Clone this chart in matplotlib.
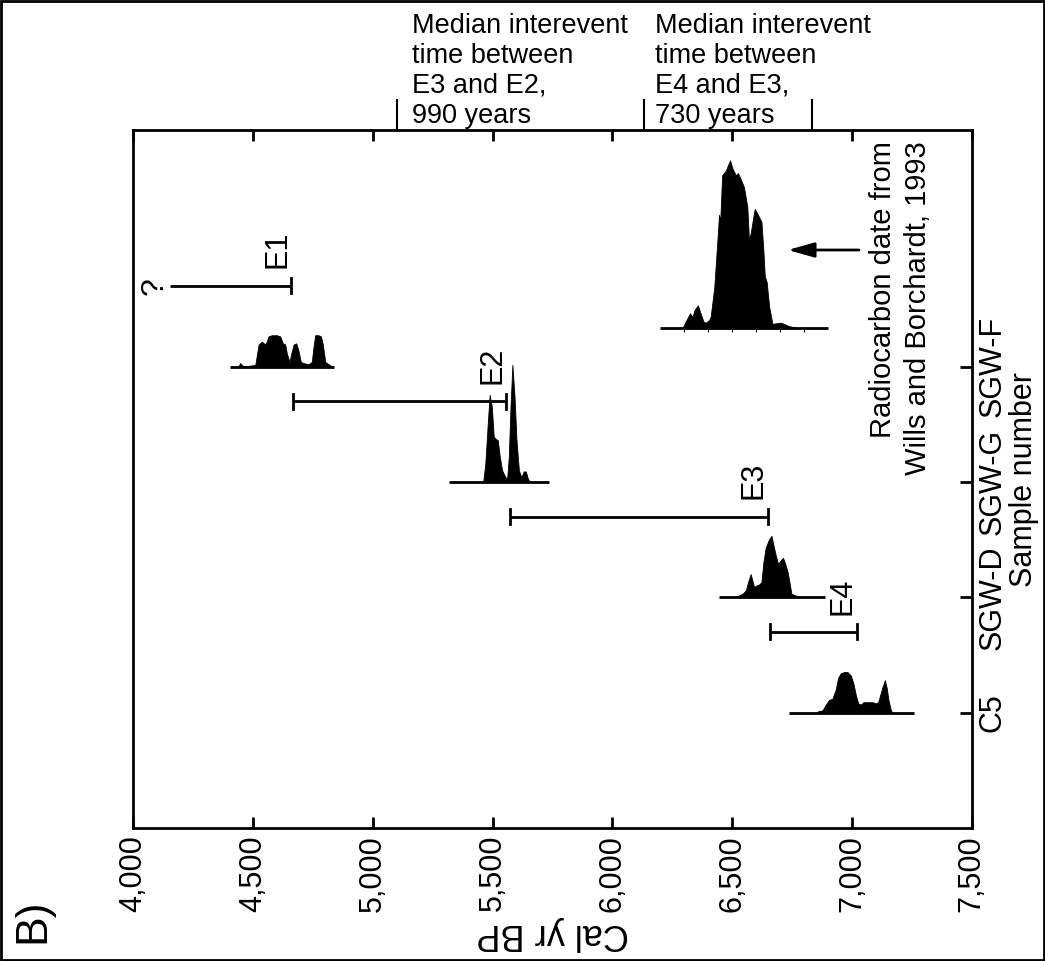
import numpy as np
import matplotlib.pyplot as plt
import matplotlib.transforms as mtransforms
from matplotlib.patches import Rectangle

plt.rcParams['font.family'] = ['Liberation Sans', 'DejaVu Sans']

# axis
year_ticks = [4000, 4500, 5000, 5500, 6000, 6500, 7000, 7500]
year_labels = ['4,000', '4,500', '5,000', '5,500', '6,000', '6,500', '7,000', '7,500']
sample_names = ['C5', 'SGW-D', 'SGW-G', 'SGW-F']
sample_rows = [1, 2, 3, 4]

# calibrated age distributions (year, relative probability)
c5_yr = [6856, 6877, 6891, 6904, 6918, 6932, 6942, 6953, 6967, 6981, 6995, 7006, 7016, 7026,
         7037, 7048, 7058, 7071, 7086, 7099, 7109, 7120, 7127, 7137, 7145, 7152, 7162, 7169]
c5_p = [0.01, 0.02, 0.07, 0.11, 0.12, 0.20, 0.30, 0.34, 0.35, 0.35, 0.32, 0.25, 0.15, 0.08,
        0.07, 0.09, 0.09, 0.09, 0.09, 0.08, 0.09, 0.17, 0.22, 0.28, 0.21, 0.11, 0.02, 0.0]

sgwd_yr = [6522, 6543, 6557, 6566, 6577, 6586, 6591, 6600, 6612, 6622, 6630, 6640, 6654, 6664,
           6672, 6682, 6691, 6703, 6712, 6721, 6731, 6739, 6747, 6758, 6772, 6783]
sgwd_p = [0.01, 0.03, 0.06, 0.13, 0.20, 0.13, 0.09, 0.10, 0.11, 0.13, 0.30, 0.43, 0.50, 0.53,
          0.45, 0.36, 0.29, 0.32, 0.34, 0.29, 0.22, 0.13, 0.03, 0.02, 0.01, 0.0]

sgwg_yr = [5461, 5470, 5480, 5488, 5497, 5505, 5513, 5522, 5530, 5540, 5554, 5561, 5568, 5575,
           5583, 5592, 5600, 5610, 5620, 5630, 5639, 5647, 5655]
sgwg_p = [0.0, 0.16, 0.50, 0.75, 0.65, 0.39, 0.37, 0.36, 0.22, 0.10, 0.04, 0.03, 0.22, 0.65,
          1.01, 0.73, 0.36, 0.10, 0.04, 0.09, 0.09, 0.03, 0.0]

sgwf_yr = [4440, 4447, 4461, 4510, 4524, 4538, 4551, 4558, 4565, 4579, 4600, 4614, 4625, 4635,
           4642, 4653, 4660, 4670, 4681, 4690, 4700, 4711, 4732, 4746, 4753, 4760, 4774, 4784,
           4792, 4802, 4823, 4830]
sgwf_p = [0.0, 0.03, 0.0, 0.014, 0.19, 0.215, 0.19, 0.215, 0.26, 0.27, 0.27, 0.26, 0.20, 0.19,
          0.11, 0.04, 0.11, 0.19, 0.20, 0.14, 0.04, 0.03, 0.02, 0.04, 0.17, 0.27, 0.27, 0.26,
          0.19, 0.04, 0.01, 0.0]

wills_yr = [6292, 6306, 6324, 6334, 6343, 6357, 6368, 6380, 6389, 6403, 6410, 6425, 6438, 6445,
            6450, 6458, 6473, 6491, 6501, 6515, 6524, 6535, 6549, 6563, 6570, 6577, 6588, 6594,
            6605, 6622, 6630, 6636, 6644, 6654, 6668, 6703, 6737, 6786]
wills_p = [0.0, 0.06, 0.13, 0.10, 0.16, 0.20, 0.13, 0.06, 0.05, 0.07, 0.10, 0.35, 0.75, 0.98,
           0.92, 1.32, 1.36, 1.45, 1.38, 1.32, 1.34, 1.29, 1.22, 1.05, 0.76, 0.82, 0.96, 1.03,
           0.99, 0.92, 0.68, 0.45, 0.40, 0.19, 0.04, 0.05, 0.02, 0.0]
wills_row = 4.33
wills_minor = [6300, 6400, 6500, 6600, 6700, 6800]

dists = [
    (c5_yr, c5_p, 1, 6737, 7259),
    (sgwd_yr, sgwd_p, 2, 6445, 6887),
    (sgwg_yr, sgwg_p, 3, 5317, 5735),
    (sgwf_yr, sgwf_p, 4, 4405, 4840),
    (wills_yr, wills_p, wills_row, 6197, 6899),
]

# event age ranges
events = ['E1', 'E2', 'E3', 'E4']
event_start = [4155, 4668, 5571, 6657]
event_end = [4660, 5558, 6648, 7020]
event_row = [4.7, 3.7, 2.7, 1.7]

# interevent time brackets above the plot
bracket_years = [5100, 6133, 6833]
interevent_text = ['Median interevent\ntime between\nE3 and E2,\n990 years',
                   'Median interevent\ntime between\nE4 and E3,\n730 years']
interevent_x = [5165, 6180]

fig = plt.figure(figsize=(10.45, 9.61), dpi=100)
ax = fig.add_axes([0.1273, 0.1384, 0.8027, 0.7263])
lw = 2.0

for yr, p, row, b0, b1 in dists:
    yr = np.array(yr)
    p = np.array(p)
    ax.fill_between(yr, row, row + p * 116 / 115.4, color='black', lw=0.6)
    ax.plot([b0, b1], [row, row], color='black', lw=lw, solid_capstyle='butt')
ax.vlines(wills_minor, wills_row - 0.03, wills_row, color='black', lw=0.8)

cap = 0.065
for name, x0, x1, row in zip(events, event_start, event_end, event_row):
    ax.plot([x0, x1], [row, row], color='black', lw=lw, solid_capstyle='butt')
    ax.plot([x1, x1], [row - cap, row + cap], color='black', lw=lw)
    if name != 'E1':
        ax.plot([x0, x0], [row - cap, row + cap], color='black', lw=lw)
    ax.text(x1 + 4, row + 0.15, name, rotation=90, ha='right', va='bottom', fontsize=22)
ax.text(event_start[0] - 63, event_row[0], '?', rotation=90, ha='center', va='center', fontsize=23)

ax.annotate('', xy=(6732, 5.01), xytext=(7029, 5.01),
            arrowprops=dict(arrowstyle='-|>,head_length=1.6,head_width=0.45',
                            color='black', lw=2, shrinkA=0, shrinkB=0))
ax.text(7129, 5.95, 'Radiocarbon date from', rotation=90, ha='center', va='top', fontsize=21)
ax.text(7275, 5.95, 'Wills and Borchardt, 1993', rotation=90, ha='center', va='top', fontsize=21)

trans = mtransforms.blended_transform_factory(ax.transData, ax.transAxes)
for bx in bracket_years:
    ax.plot([bx, bx], [1.0, 1.043], color='black', lw=1.5, transform=trans, clip_on=False)
for tx, t in zip(interevent_x, interevent_text):
    ax.text(tx, 1.168, t, transform=trans, ha='left', va='top', fontsize=19.5, linespacing=1.2)

ax.set_xlim(4000, 7500)
ax.set_ylim(0, 6.05)
ax.set_xticks(year_ticks)
ax.set_xticklabels(year_labels, rotation=90, fontsize=22)
ax.set_yticks(sample_rows)
ax.set_yticklabels(sample_names, rotation=90, va='center', fontsize=22)
ax.tick_params(axis='x', direction='in', top=True, bottom=True, length=8, width=lw, pad=5)
ax.tick_params(axis='y', direction='in', left=False, right=True, labelleft=False,
               labelright=True, length=9, width=lw, pad=4)
ax.yaxis.set_label_position('right')
ax.set_ylabel('Sample number', fontsize=22, rotation=90, labelpad=1)
ax.set_xlabel('Cal yr BP', fontsize=26, rotation=180, labelpad=3)
for s in ax.spines.values():
    s.set_linewidth(lw)

fig.text(33 / 1045, 1 - 921 / 961, 'B)', rotation=90, ha='center', va='center', fontsize=32)
fig.patches.append(Rectangle((0.001, 0.001), 0.998, 0.998, transform=fig.transFigure,
                             fill=False, edgecolor='black', lw=2))

fig.savefig('out.png', dpi=100)
